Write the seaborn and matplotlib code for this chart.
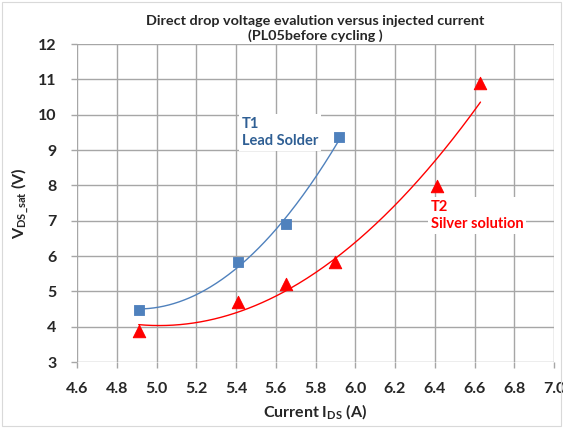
import numpy as np
import pandas as pd
import matplotlib
matplotlib.use("Agg")
import matplotlib.pyplot as plt
import seaborn as sns

# T1 - lead solder
t1_current = [4.91, 5.41, 5.65, 5.92]
t1_vds = [4.48, 5.83, 6.91, 9.36]

# T2 - silver solution
t2_current = [4.91, 5.41, 5.65, 5.90, 6.41, 6.63]
t2_vds = [3.88, 4.70, 5.22, 5.84, 7.99, 10.91]

x_ticks = [4.6, 4.8, 5.0, 5.2, 5.4, 5.6, 5.8, 6.0, 6.2, 6.4, 6.6, 6.8, 7.0]
y_ticks = [3, 4, 5, 6, 7, 8, 9, 10, 11, 12]

blue = '#4F81BD'
red = '#FF0000'

sns.set_theme(style="white")
plt.rcParams['font.family'] = ['Lato', 'DejaVu Sans']
plt.rcParams['mathtext.fontset'] = 'custom'
plt.rcParams['mathtext.rm'] = 'Lato:bold'
plt.rcParams['mathtext.it'] = 'Lato:bold'
plt.rcParams['mathtext.bf'] = 'Lato:bold'

fig = plt.figure(figsize=(5.63, 4.28), dpi=100)
ax = fig.add_axes([0.137, 0.154, 0.847, 0.743])

t1 = pd.DataFrame({'I': t1_current, 'V': t1_vds})
t2 = pd.DataFrame({'I': t2_current, 'V': t2_vds})

# polynomial (order 2) trendlines, like the spreadsheet
def trend(df):
    coef = np.polyfit(df['I'], df['V'], 2)
    xs = np.linspace(df['I'].min(), df['I'].max(), 200)
    return pd.DataFrame({'I': xs, 'V': np.polyval(coef, xs)})

sns.lineplot(data=trend(t1), x='I', y='V', color=blue, lw=1, ax=ax)
sns.lineplot(data=trend(t2), x='I', y='V', color=red, lw=1, ax=ax)
sns.scatterplot(data=t1, x='I', y='V', marker='s', s=60, color=blue, edgecolor=blue, ax=ax, zorder=3)
sns.scatterplot(data=t2, x='I', y='V', marker='^', s=80, color=red, edgecolor=red, ax=ax, zorder=3)

ax.set_xlim(4.6, 7.0)
ax.set_ylim(3, 12)
ax.set_xticks(x_ticks)
ax.set_yticks(y_ticks)
ax.set_xticklabels([f"{v:.1f}" for v in x_ticks])
ax.set_yticklabels([str(v) for v in y_ticks])
ax.grid(True, color='#A6A6A6', lw=1)
ax.set_axisbelow(True)
for s in ax.spines.values():
    s.set_visible(False)
ax.tick_params(axis='both', length=4, width=1, color='#A6A6A6', labelsize=11.5,
               bottom=True, left=True)
ax.tick_params(axis='x', pad=10)
ax.tick_params(axis='y', pad=11)
for lab in ax.get_xticklabels() + ax.get_yticklabels():
    lab.set_fontweight('bold')

ax.set_xlabel('Current I$_{DS}$ (A)', fontsize=11.5, fontweight='bold', labelpad=5)
ax.set_ylabel('V$_{DS\\_sat}$ (V)', fontsize=11.5, fontweight='bold', labelpad=5)
ax.set_title('Direct drop voltage evalution versus injected current\n(PL05before cycling )',
             fontsize=10.4, fontweight='bold', pad=3, linespacing=1.25)

ax.text(5.43, 9.95, 'T1\nLead Solder', color='#2F5F94', fontsize=10.5, fontweight='bold',
        va='top', ha='left', linespacing=1.35,
        bbox=dict(facecolor='white', edgecolor='none', pad=2))
ax.text(6.38, 7.6, 'T2\nSilver solution', color=red, fontsize=10.5, fontweight='bold',
        va='top', ha='left', linespacing=1.35,
        bbox=dict(facecolor='white', edgecolor='none', pad=2))

fig.patches.append(plt.Rectangle((0.004, 0.004), 0.992, 0.992, transform=fig.transFigure,
                                 fill=False, edgecolor='#D9D9D9', lw=0.8))

fig.savefig('out.png', dpi=100)
